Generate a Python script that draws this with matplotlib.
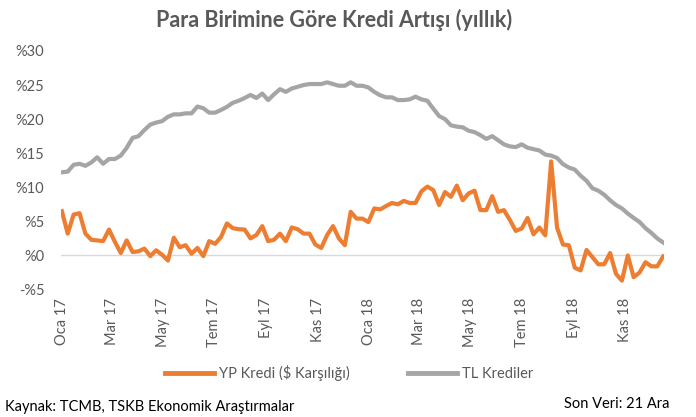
import matplotlib
matplotlib.use("Agg")
import matplotlib.pyplot as plt
import matplotlib.dates as mdates
import pandas as pd

plt.rcParams['font.family'] = ['Lato', 'DejaVu Sans']

start_date = "2017-01-01"
n_weeks = 103

yp_kredi = [
    6.5, 3.2, 6.0, 6.2, 3.2, 2.3, 2.2, 2.1, 3.8, 2.0,
    0.35, 2.2, 0.5, 0.6, 1.0, -0.1, 0.75, 0.1, -0.75, 2.6,
    1.2, 1.5, 0.25, 1.1, -0.1, 2.1, 1.7, 2.7, 4.7, 4.0,
    3.85, 3.8, 2.5, 3.0, 4.3, 2.1, 2.3, 3.2, 2.1, 4.1,
    3.85, 3.2, 3.2, 1.6, 1.1, 3.0, 4.3, 2.5, 1.5, 6.4,
    5.4, 5.4, 4.9, 6.9, 6.75, 7.25, 7.7, 7.5, 8.0, 7.7,
    7.7, 9.4, 10.1, 9.6, 7.4, 9.3, 8.6, 10.25, 8.1, 9.1,
    9.5, 6.65, 6.65, 8.7, 6.4, 6.65, 5.2, 3.6, 3.95, 5.5,
    3.1, 4.1, 2.95, 13.8, 4.1, 1.6, 1.5, -1.8, -2.2, 0.8,
    -0.25, -1.3, -1.3, 0.35, -2.7, -3.7, 0.0, -3.2, -2.5, -1.0,
    -1.6, -1.6, -0.15,
]

tl_krediler = [
    12.2, 12.3, 13.3, 13.45, 13.15, 13.65, 14.4, 13.45, 14.15, 14.15,
    14.65, 15.8, 17.25, 17.5, 18.4, 19.2, 19.5, 19.7, 20.35, 20.7,
    20.7, 20.85, 20.85, 21.85, 21.6, 20.95, 20.95, 21.35, 21.8, 22.4,
    22.7, 23.1, 23.55, 23.1, 23.75, 22.8, 23.65, 24.4, 24.0, 24.5,
    24.75, 25.0, 25.15, 25.15, 25.15, 25.4, 25.15, 24.9, 24.9, 25.4,
    24.9, 24.9, 24.65, 24.0, 23.5, 23.2, 23.2, 22.8, 22.8, 22.9,
    23.3, 22.9, 22.7, 21.55, 20.45, 20.0, 19.1, 18.9, 18.8, 18.3,
    18.1, 17.65, 17.1, 17.5, 16.9, 16.3, 16.0, 15.9, 16.3, 15.8,
    15.6, 15.4, 14.8, 14.65, 14.3, 13.4, 12.9, 12.6, 11.7, 10.95,
    9.85, 9.5, 8.9, 8.1, 7.4, 6.9, 6.15, 5.5, 4.9, 4.0,
    3.3, 2.5, 1.9,
]

tick_months = ["2017-01-01", "2017-03-01", "2017-05-01", "2017-07-01", "2017-09-01", "2017-11-01",
               "2018-01-01", "2018-03-01", "2018-05-01", "2018-07-01", "2018-09-01", "2018-11-01"]
tick_labels = ["Oca 17", "Mar 17", "May 17", "Tem 17", "Eyl 17", "Kas 17",
               "Oca 18", "Mar 18", "May 18", "Tem 18", "Eyl 18", "Kas 18"]
y_ticks = [-5, 0, 5, 10, 15, 20, 25, 30]
y_tick_labels = ["-%5", "%0", "%5", "%10", "%15", "%20", "%25", "%30"]

dates = pd.date_range(start_date, periods=n_weeks, freq="7D")

W, H = 696, 417
fig = plt.figure(figsize=(W / 100, H / 100), dpi=100)
ax = fig.add_axes([61 / W, (H - 289.5) / H, (664 - 61) / W, (289.5 - 51) / H])

txt = "#595959"
orange = "#ED7D31"
gray = "#A5A5A5"

ax.axhline(0, color="#D9D9D9", lw=1.0, zorder=1)
ax.plot(dates, yp_kredi, color=orange, lw=3.0, label="YP Kredi ($ Karşılığı)", zorder=3,
        solid_joinstyle="round")
ax.plot(dates, tl_krediler, color=gray, lw=3.0, label="TL Krediler", zorder=2,
        solid_joinstyle="round")

ax.set_ylim(-5, 30)
ax.set_yticks(y_ticks)
ax.set_yticklabels(y_tick_labels)
ax.set_xlim(dates[0] - pd.Timedelta(days=1), dates[-1] + pd.Timedelta(days=1))
ax.set_xticks(pd.to_datetime(tick_months))
ax.set_xticklabels(tick_labels, rotation=90)

for s in ax.spines.values():
    s.set_visible(False)
ax.tick_params(axis="both", length=0, colors=txt, labelsize=10.5)
ax.tick_params(axis="y", pad=12)
ax.tick_params(axis="x", pad=6)

fig.text(334 / W, 1 - 20 / H, "Para Birimine Göre Kredi Artışı (yıllık)", ha="center", va="center",
         fontsize=15.5, fontweight="bold", color=txt)

leg = fig.legend(loc="center", bbox_to_anchor=(349 / W, 1 - 373 / H), ncol=2, frameon=False,
                 fontsize=10.5, handlelength=3.4, columnspacing=4.0, handletextpad=0.3)
for t in leg.get_texts():
    t.set_color(txt)
for l in leg.get_lines():
    l.set_linewidth(3.5)

fig.text(5 / W, 1 - 407 / H, "Kaynak: TCMB, TSKB Ekonomik Araştırmalar", ha="left", va="center",
         fontsize=10.5, color="black")
fig.text(669 / W, 1 - 404 / H, "Son Veri: 21 Ara", ha="right", va="center",
         fontsize=10.5, color="black")

fig.savefig("out.png", dpi=100)
